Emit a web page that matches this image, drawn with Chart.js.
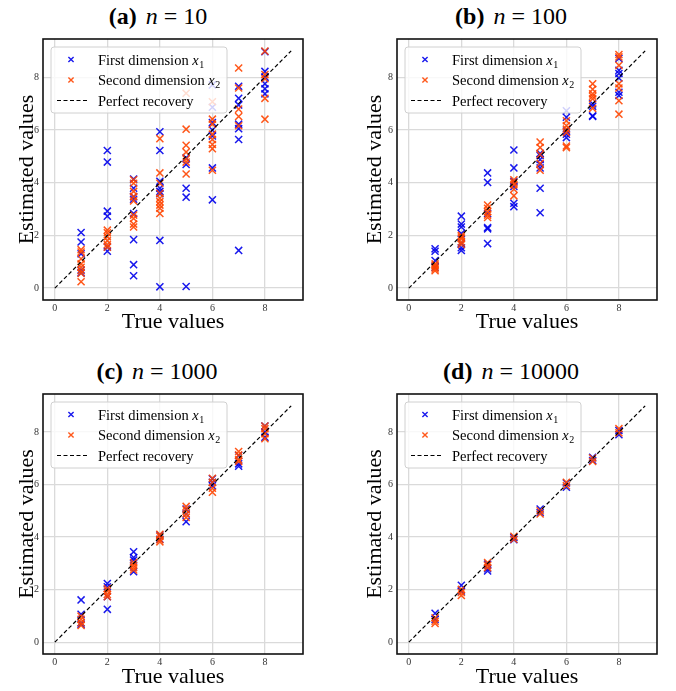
<!DOCTYPE html>
<html>
<head>
<meta charset="utf-8">
<script src="https://cdn.jsdelivr.net/npm/chart.js@4/dist/chart.umd.min.js"></script>
<style>
  body { margin: 0; background: #fff; }
  #wrap { position: relative; width: 676px; height: 691px; overflow: hidden; }
  canvas { position: absolute; }
  .title {
    position: absolute; transform: translateX(-50%);
    font-family: "Liberation Serif", serif; font-size: 24px; line-height: 24px;
    white-space: nowrap; color: #000;
  }
  .title i { margin-left: 3px; }
  .title .eq { margin: 0 6px; }
</style>
</head>
<body>
<div id="wrap">
  <div class="title" style="left:158px;top:4px"><b>(a)</b> <i>n</i><span class="eq">=</span>10</div>
  <div class="title" style="left:511px;top:4px"><b>(b)</b> <i>n</i><span class="eq">=</span>100</div>
  <div class="title" style="left:157px;top:359px"><b>(c)</b> <i>n</i><span class="eq">=</span>1000</div>
  <div class="title" style="left:511px;top:359px"><b>(d)</b> <i>n</i><span class="eq">=</span>10000</div>
  <canvas id="ca" width="338" height="340" style="left:0;top:0"></canvas>
  <canvas id="cb" width="338" height="340" style="left:338px;top:0"></canvas>
  <canvas id="cc" width="338" height="341" style="left:0;top:350px"></canvas>
  <canvas id="cd" width="338" height="341" style="left:338px;top:350px"></canvas>
</div>
<script>
// true values on the x axis, one group of estimates per value
const trueValues = [1, 2, 3, 4, 5, 6, 7, 8];
const tickValues = [0, 2, 4, 6, 8];
const lineX = [0, 9];

// (a) n = 10
const a_x1 = [
  [2.11, 1.75, 1.30, 0.69, 0.58],
  [5.22, 4.78, 2.92, 2.73, 1.56, 1.40],
  [4.14, 3.79, 3.47, 3.37, 2.83, 1.84, 0.89, 0.47],
  [5.93, 5.22, 4.05, 3.79, 3.67, 3.58, 1.81, 0.05],
  [4.94, 4.69, 3.79, 3.45, 0.06],
  [7.71, 6.86, 6.28, 6.00, 5.77, 4.56, 3.35],
  [7.66, 7.20, 6.95, 6.22, 6.05, 5.64, 1.43],
  [8.97, 8.22, 8.01, 7.75, 7.56, 7.37]
];
const a_x2 = [
  [1.46, 1.37, 1.11, 0.92, 0.79, 0.66, 0.56, 0.24],
  [2.20, 2.10, 1.95, 1.80, 1.65, 1.55],
  [4.11, 3.98, 3.67, 3.47, 3.31, 2.77, 2.64, 2.43, 2.32],
  [5.67, 4.37, 3.98, 3.60, 3.41, 3.28, 3.15, 3.03, 2.83],
  [7.39, 6.03, 5.42, 5.16, 4.90, 4.78, 4.33],
  [7.07, 6.41, 6.22, 5.84, 5.64, 5.45, 5.29, 4.47],
  [8.35, 7.59, 6.79, 6.51, 6.16],
  [8.99, 8.10, 7.94, 7.20, 6.41]
];

// (b) n = 100
const b_x1 = [
  [1.49, 1.40, 1.05, 0.79],
  [2.73, 2.43, 2.32, 2.07, 1.69, 1.53, 1.43],
  [4.37, 4.01, 2.83, 2.30, 2.25, 1.69],
  [5.24, 4.56, 4.05, 3.86, 3.22, 3.09],
  [5.11, 5.03, 4.88, 4.69, 4.56, 3.79, 2.86],
  [6.73, 6.48, 5.96, 5.84, 5.71],
  [6.99, 6.90, 6.54, 6.51],
  [8.71, 8.26, 8.14, 7.97, 7.43, 7.31]
];
const b_x2 = [
  [0.92, 0.86, 0.79, 0.73, 0.66],
  [2.00, 1.94, 1.88, 1.75, 1.66],
  [3.15, 3.03, 2.90, 2.77, 2.68],
  [4.11, 4.01, 3.92, 3.75, 3.50],
  [5.54, 5.33, 5.07, 4.73, 4.47],
  [6.35, 6.16, 6.03, 5.90, 5.39, 5.33],
  [7.75, 7.54, 7.37, 7.28, 7.18, 6.82],
  [8.86, 8.77, 8.45, 7.75, 7.59, 7.11, 6.60]
];

// (c) n = 1000
const c_x1 = [
  [1.61, 1.06, 0.74, 0.68],
  [2.23, 2.11, 1.73, 1.25],
  [3.44, 3.22, 3.13, 2.68],
  [4.08, 3.92],
  [5.07, 4.88, 4.59],
  [6.22, 6.09, 5.96],
  [7.11, 6.79, 6.70],
  [8.23, 8.00, 7.80]
];
const c_x2 = [
  [0.99, 0.87, 0.74, 0.64],
  [2.04, 1.95, 1.82, 1.73],
  [3.03, 2.93, 2.84, 2.75],
  [4.11, 4.03, 3.90, 3.82],
  [5.17, 5.04, 4.88, 4.75],
  [6.24, 6.09, 5.86, 5.71],
  [7.26, 7.13, 6.95, 6.88],
  [8.23, 8.13, 7.94, 7.75]
];

// (d) n = 10000
const d_x1 = [
  [1.10, 0.87],
  [2.17, 1.95],
  [2.97, 2.80, 2.71],
  [3.99, 3.90],
  [5.07, 4.94],
  [6.06, 5.90],
  [7.04, 6.92],
  [8.06, 7.90]
];
const d_x2 = [
  [0.93, 0.80, 0.71],
  [2.01, 1.89, 1.78],
  [3.03, 2.93, 2.84],
  [4.03, 3.92],
  [5.00, 4.88],
  [6.09, 5.96],
  [7.01, 6.88],
  [8.13, 7.97]
];

const BLUE = 'rgba(0, 0, 235, 0.9)';
const ORANGE = 'rgba(255, 69, 0, 0.9)';
const SERIF = '"Liberation Serif", "DejaVu Serif", serif';

function toPoints(groups)
{
    let pts = [];
    groups.forEach((g, i) => g.forEach((v) => pts.push({x: trueValues[i], y: v})));
    return pts;
}

// legend box inside the plot, drawn over the points like matplotlib's framealpha
const boxLegend = {
    id: 'boxLegend',
    afterDatasetsDraw(chart) {
        const ctx = chart.ctx;
        const a = chart.chartArea;
        const x = a.left + 8, y = a.top + 8;
        ctx.save();
        ctx.beginPath();
        ctx.roundRect(x, y, 176, 66, 3);
        ctx.fillStyle = 'rgba(255,255,255,0.8)';
        ctx.fill();
        ctx.strokeStyle = '#d0d0d0';
        ctx.lineWidth = 1;
        ctx.stroke();

        const rows = [y + 12.5, y + 33, y + 53.5];
        const mx = x + 20;
        [BLUE, ORANGE].forEach((c, i) => {
            ctx.strokeStyle = c;
            ctx.lineWidth = 1.4;
            ctx.beginPath();
            ctx.moveTo(mx - 2.6, rows[i] - 2.6); ctx.lineTo(mx + 2.6, rows[i] + 2.6);
            ctx.moveTo(mx - 2.6, rows[i] + 2.6); ctx.lineTo(mx + 2.6, rows[i] - 2.6);
            ctx.stroke();
        });
        ctx.strokeStyle = '#000';
        ctx.lineWidth = 1.2;
        ctx.setLineDash([4, 2.5]);
        ctx.beginPath();
        ctx.moveTo(x + 6, rows[2]); ctx.lineTo(x + 36, rows[2]);
        ctx.stroke();
        ctx.setLineDash([]);

        ctx.fillStyle = '#000';
        ctx.textBaseline = 'alphabetic';
        const tx = x + 47;
        const labels = [['First dimension ', '1'], ['Second dimension ', '2']];
        labels.forEach((l, i) => {
            const base = rows[i] + 5;
            ctx.font = '14.5px ' + SERIF;
            ctx.fillText(l[0], tx, base);
            let w = ctx.measureText(l[0]).width;
            ctx.font = 'italic 14.5px ' + SERIF;
            ctx.fillText('x', tx + w, base);
            w += ctx.measureText('x').width;
            ctx.font = '10px ' + SERIF;
            ctx.fillText(l[1], tx + w + 0.5, base + 3);
        });
        ctx.font = '14.5px ' + SERIF;
        ctx.fillText('Perfect recovery', tx, rows[2] + 5);
        ctx.restore();
    }
};

const frame = {
    id: 'frame',
    afterDraw(chart) {
        const a = chart.chartArea;
        const ctx = chart.ctx;
        ctx.save();
        ctx.strokeStyle = '#111';
        ctx.lineWidth = 1.6;
        ctx.strokeRect(a.left, a.top, a.right - a.left, a.bottom - a.top);
        ctx.restore();
    }
};

function makePanel(id, x1, x2, lay)
{
    const tickFont = {family: SERIF, size: 10};
    return new Chart(document.getElementById(id), {
        type: 'scatter',
        data: {
            datasets: [{
                label: 'First dimension x1',
                data: toPoints(x1),
                pointStyle: 'crossRot',
                pointRadius: 5,
                borderColor: BLUE,
                backgroundColor: BLUE,
                borderWidth: 1.5,
                order: 3
            }, {
                label: 'Second dimension x2',
                data: toPoints(x2),
                pointStyle: 'crossRot',
                pointRadius: 5,
                borderColor: ORANGE,
                backgroundColor: ORANGE,
                borderWidth: 1.5,
                order: 2
            }, {
                type: 'line',
                label: 'Perfect recovery',
                data: lineX.map((v) => ({x: v, y: v})),
                borderColor: '#000',
                borderWidth: 1.2,
                borderDash: [4, 2.5],
                pointRadius: 0,
                fill: false,
                order: 1
            }]
        },
        options: {
            animation: false,
            responsive: false,
            devicePixelRatio: 1,
            layout: {padding: {top: lay.top, right: lay.right, left: 0, bottom: 0}},
            plugins: {legend: {display: false}, tooltip: {enabled: false}},
            scales: {
                x: {
                    type: 'linear', min: -0.45, max: 9.45,
                    afterBuildTicks: (s) => { s.ticks = tickValues.map((v) => ({value: v})); },
                    afterFit: (s) => { s.height = lay.xh; },
                    grid: {color: '#dadada', lineWidth: 1.3, drawTicks: false},
                    border: {display: false},
                    ticks: {font: tickFont, color: '#333', padding: 2, maxRotation: 0, autoSkip: false},
                    title: {display: true, text: 'True values', color: '#000',
                        font: {family: SERIF, size: 22, lineHeight: 1}, padding: {top: 0, bottom: lay.xpad}}
                },
                y: {
                    type: 'linear', min: -0.45, max: 9.45,
                    afterBuildTicks: (s) => { s.ticks = tickValues.map((v) => ({value: v})); },
                    afterFit: (s) => { s.width = lay.yw; },
                    grid: {color: '#dadada', lineWidth: 1.3, drawTicks: false},
                    border: {display: false},
                    ticks: {font: tickFont, color: '#333', padding: 4, autoSkip: false},
                    title: {display: true, text: 'Estimated values', color: '#000',
                        font: {family: SERIF, size: 22, lineHeight: 1}, padding: {top: lay.ypad, bottom: 0}}
                }
            }
        },
        plugins: [boxLegend, frame]
    });
}

makePanel('ca', a_x1, a_x2, {top: 39, right: 35, yw: 43, xh: 40, xpad: 7, ypad: 16});
makePanel('cb', b_x1, b_x2, {top: 39, right: 19, yw: 59, xh: 40, xpad: 7, ypad: 26});
makePanel('cc', c_x1, c_x2, {top: 44, right: 35, yw: 43, xh: 37, xpad: 3, ypad: 16});
makePanel('cd', d_x1, d_x2, {top: 44, right: 19, yw: 59, xh: 37, xpad: 3, ypad: 26});
</script>
</body>
</html>
